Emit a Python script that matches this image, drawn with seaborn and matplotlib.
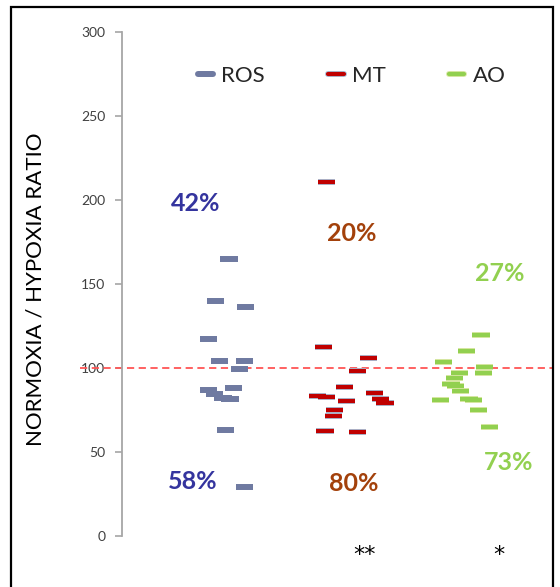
import matplotlib
matplotlib.use("Agg")
import matplotlib.pyplot as plt
import matplotlib.patheffects as pe
from matplotlib.lines import Line2D
from matplotlib.patches import Rectangle
import seaborn as sns
import pandas as pd

# ---- data -------------------------------------------------------------
groups = ["ROS", "MT", "AO"]

ros_values = [165, 140, 136.5, 117.4, 104.3, 104.3, 99.2, 86.7, 88.3, 84.5, 82.1, 81.5, 63.3, 29]
ros_dx = [-0.01, -0.12, 0.13, -0.18, -0.09, 0.12, 0.08, -0.18, 0.03, -0.13, -0.06, 0.0, -0.04, 0.12]

mt_values = [211, 112.3, 105.8, 98.4, 88.9, 83.6, 82.9, 85.3, 80.2, 81.5, 79.4, 75.2, 71.2, 62.5, 61.7]
mt_dx = [-0.20, -0.22, 0.15, 0.06, -0.05, -0.27, -0.20, 0.20, -0.03, 0.25, 0.29, -0.13, -0.14, -0.21, 0.06]

ao_values = [119.6, 110.1, 103.6, 100.6, 97.0, 97.0, 93.8, 90.5, 89.5, 86.1, 81.0, 81.5, 81.0, 75.0, 64.9]
ao_dx = [0.09, -0.03, -0.22, 0.12, 0.11, -0.09, -0.13, -0.16, -0.12, -0.08, -0.25, -0.01, 0.03, 0.07, 0.16]

pct_above = ["42%", "20%", "27%"]
pct_below = ["58%", "80%", "73%"]
significance = ["", "**", "*"]

y_ticks = [0, 50, 100, 150, 200, 250, 300]
reference_ratio = 100

# ---- styling ----------------------------------------------------------
mark_colors = {"ROS": "#6F7AA1", "MT": "#C00000", "AO": "#92D050"}
mark_edges = {"ROS": "#6F7AA1", "MT": "#A9BED6", "AO": "#DCE8A8"}
text_colors = {"ROS": "#34349E", "MT": "#A3410B", "AO": "#92D050"}

sns.set_theme(style="white")
plt.rcParams["font.family"] = ["Lato", "DejaVu Sans"]

frames = []
for i, (g, vals, dx) in enumerate(zip(groups, [ros_values, mt_values, ao_values],
                                      [ros_dx, mt_dx, ao_dx])):
    frames.append(pd.DataFrame({"group": g, "value": vals,
                                "x": [i + d for d in dx]}))
df = pd.concat(frames, ignore_index=True)

fig = plt.figure(figsize=(5.6, 5.87), dpi=100)
ax = fig.add_axes([0.218, 0.0869, 0.7696, 0.8586])

# dashed reference line at ratio 100, running under the tick label
ax.plot([-0.097, 1.0], [reference_ratio, reference_ratio], color="#FF5555",
        lw=1.3, ls=(0, (4, 2.5)), transform=ax.get_yaxis_transform(),
        clip_on=False, zorder=1)

for g in groups:
    sub = df[df["group"] == g]
    sns.scatterplot(data=sub, x="x", y="value", marker="_", s=155,
                    linewidth=3.0, color=mark_colors[g], ax=ax, legend=False,
                    zorder=3)
    coll = ax.collections[-1]
    coll.set_path_effects([pe.Stroke(linewidth=4.3, foreground=mark_edges[g]),
                           pe.Normal()])

ax.set_xlim(-0.9, 2.69)
ax.set_ylim(0, 300)
ax.set_yticks(y_ticks)
ax.set_xticks([])
ax.set_xlabel("")
ax.set_ylabel("NORMOXIA / HYPOXIA RATIO", fontsize=16, color="black")
ax.yaxis.set_label_coords(-0.178, 0.49)

for side in ["top", "right", "bottom"]:
    ax.spines[side].set_visible(False)
ax.spines["left"].set_color("#A6A6A6")
ax.spines["left"].set_linewidth(1.3)
ax.tick_params(axis="y", direction="out", length=5, width=1.2, color="#A6A6A6",
               labelsize=10, labelcolor="#404040", pad=7, left=True)

# percentage annotations above / below the reference ratio
above_pos = [(-0.29, 198), (1.01, 180), (2.25, 156)]
below_pos = [(-0.31, 32.7), (1.03, 31), (2.32, 44)]
for g, ta, tb, pa, pb in zip(groups, pct_above, pct_below, above_pos, below_pos):
    ax.text(*pa, ta, color=text_colors[g], fontsize=18, fontweight="bold",
            ha="center", va="center")
    ax.text(*pb, tb, color=text_colors[g], fontsize=18, fontweight="bold",
            ha="center", va="center")

# significance marks under the groups
star_pos = [(0, -15), (1.12, -15), (2.24, -15)]
for s, p in zip(significance, star_pos):
    if s:
        ax.text(*p, s, color="black", fontsize=16, ha="center", va="baseline",
                family="DejaVu Sans", clip_on=False)

# legend
handles = []
for g in groups:
    h = Line2D([], [], color=mark_colors[g], lw=3.0)
    h.set_path_effects([pe.Stroke(linewidth=4.3, foreground=mark_edges[g]),
                        pe.Normal()])
    handles.append(h)
ax.legend(handles, groups, loc="center left", bbox_to_anchor=(0.176, 0.913),
          ncol=3, frameon=False, fontsize=16, handlelength=0.68,
          handletextpad=0.38, columnspacing=2.85, borderaxespad=0, borderpad=0)

# outer frame
fig.patches.append(Rectangle((11 / 560, -0.05), (553 - 11) / 560, 1.038,
                             transform=fig.transFigure, fill=False,
                             ec="black", lw=1.6))

fig.savefig("out.png", dpi=100)
